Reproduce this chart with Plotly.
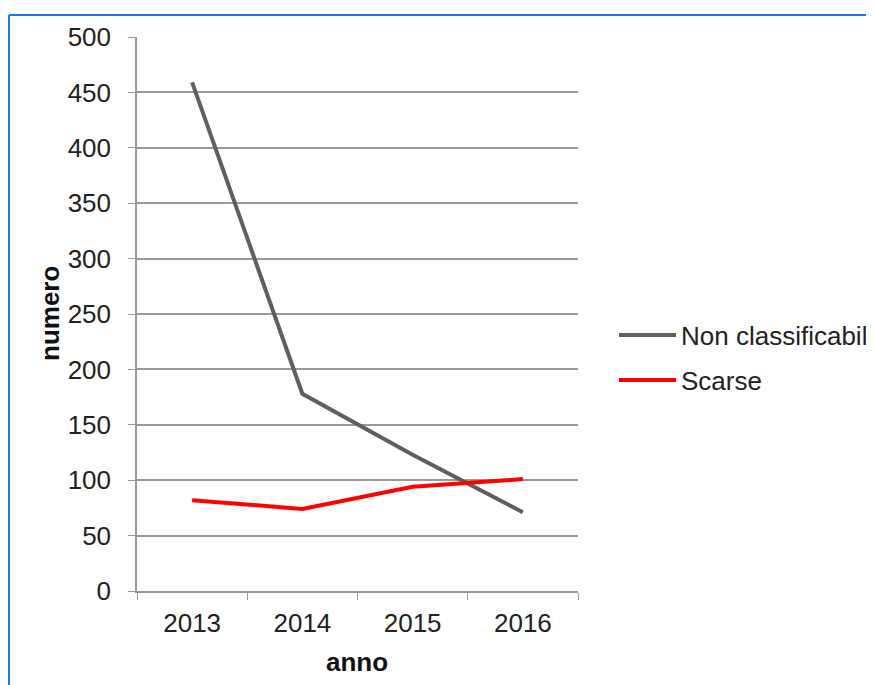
import plotly.graph_objects as go

anni = ["2013", "2014", "2015", "2016"]
non_classificabili = [459, 178, 123, 71]
scarse = [82, 74, 94, 101]
y_ticks = [0, 50, 100, 150, 200, 250, 300, 350, 400, 450, 500]

FONT = "Liberation Sans, Arial, sans-serif"
W, H = 866, 677
L, R, T, B = 129, 570, 29, 583
FS = 26

fig = go.Figure()
fig.add_trace(go.Scatter(x=anni, y=non_classificabili, mode="lines",
                         name="Non classificabili",
                         line=dict(color="#5f5f5f", width=4), legend="legend"))
fig.add_trace(go.Scatter(x=anni, y=scarse, mode="lines", name="Scarse",
                         line=dict(color="#ff0000", width=4), legend="legend2"))

def px_x(p):
    return (p - L) / (R - L)

def px_y(p):
    return (B - p) / (B - T)

fig.update_layout(
    width=W, height=H,
    margin=dict(l=L, r=W - R, t=T, b=H - B, autoexpand=False),
    paper_bgcolor="white", plot_bgcolor="white",
    font=dict(family=FONT, size=FS, color="#222222"),
    showlegend=True,
    legend=dict(x=px_x(606), y=px_y(327), xanchor="left", yanchor="middle",
                font=dict(size=FS, color="#222222"), bgcolor="rgba(0,0,0,0)",
                itemwidth=57),
    legend2=dict(x=px_x(606), y=px_y(372), xanchor="left", yanchor="middle",
                 font=dict(size=FS, color="#222222"), bgcolor="rgba(0,0,0,0)",
                 itemwidth=57),
    xaxis=dict(type="category", tickson="boundaries", ticks="outside",
               ticklen=7, tickcolor="#999999", showline=True,
               linecolor="#999999", linewidth=1.5, showgrid=False,
               tickfont=dict(size=FS), ticklabelstandoff=8,
               range=[-0.5, 3.5]),
    yaxis=dict(range=[0, 500], tickvals=y_ticks, ticks="outside", ticklen=7,
               tickcolor="#999999", showline=True, linecolor="#999999",
               linewidth=1.5, showgrid=True, gridcolor="#999999",
               gridwidth=1.5, zeroline=False, tickfont=dict(size=FS),
               ticklabelstandoff=12),
    annotations=[
        dict(text="<b>numero</b>", x=px_x(42), y=px_y(306), xref="paper",
             yref="paper", showarrow=False, textangle=-90,
             font=dict(size=FS, color="#111111"), xanchor="center",
             yanchor="middle"),
        dict(text="<b>anno</b>", x=px_x(349), y=px_y(654), xref="paper",
             yref="paper", showarrow=False,
             font=dict(size=FS, color="#111111"), xanchor="center",
             yanchor="middle"),
    ],
    shapes=[
        dict(type="line", xref="paper", yref="paper", x0=px_x(1), x1=px_x(880),
             y0=px_y(7), y1=px_y(7), line=dict(color="#1a73f0", width=2)),
        dict(type="line", xref="paper", yref="paper", x0=px_x(1), x1=px_x(1),
             y0=px_y(7), y1=px_y(690), line=dict(color="#1a73f0", width=2)),
    ],
)

fig.write_html("out.html")
